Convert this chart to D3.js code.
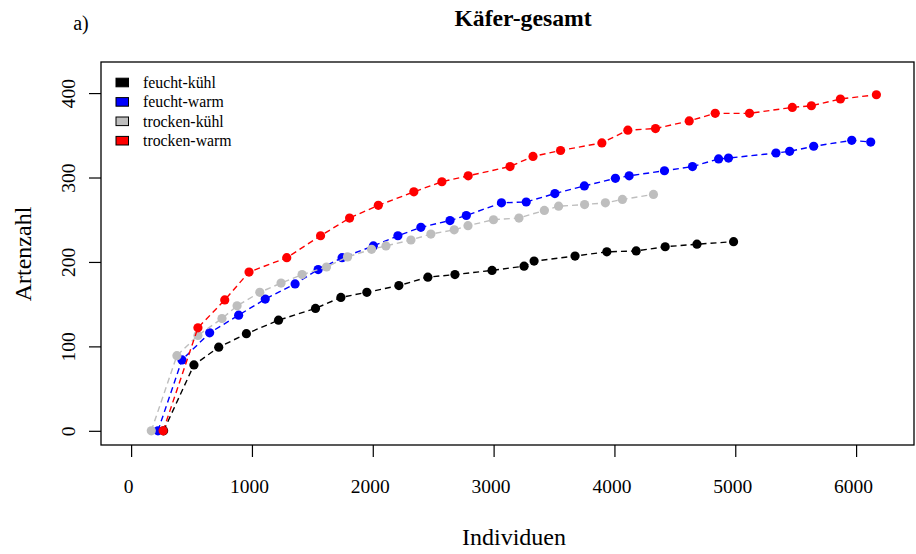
<!DOCTYPE html>
<html>
  <head>
    <meta http-equiv="Content-Type" content="text/html; charset=UTF-8" />
    <title>Käfer-gesamt</title>
    <style>
      body { margin: 0; background: #fff; }
      text { font-family: "Liberation Serif", "Times New Roman", serif; fill: #000; }
    </style>
  </head>
  <body>
    <div id="chart"></div>
    <script src="https://cdnjs.cloudflare.com/ajax/libs/d3/7.8.5/d3.min.js"></script>
    <script>
// series values (Individuen / Artenzahl)
const fkIndividuen = [269, 520, 725, 954, 1220, 1526, 1736, 1951, 2216, 2456, 2680, 2987, 3252, 3335, 3674, 3937, 4180, 4420, 4683, 4986];
const fkArten      = [0, 78, 99, 115, 131, 145, 158, 164, 172, 182, 185, 190, 195, 201, 207, 212, 213, 218, 221, 224];

const fwIndividuen = [222, 421, 650, 890, 1110, 1357, 1548, 1746, 2005, 2208, 2398, 2639, 2774, 3065, 3270, 3507, 3751, 4008, 4122, 4414, 4646, 4862, 4944, 5337, 5450, 5649, 5964, 6121];
const fwArten      = [0, 84, 116, 137, 156, 174, 191, 205, 219, 231, 241, 249, 255, 270, 271, 281, 290, 299, 302, 308, 313, 322, 323, 329, 331, 337, 344, 342];

const tkIndividuen = [167, 379, 553, 752, 877, 1065, 1241, 1415, 1617, 1791, 1990, 2109, 2316, 2481, 2674, 2788, 2999, 3210, 3420, 3538, 3753, 3925, 4066, 4323];
const tkArten      = [0, 89, 113, 133, 148, 164, 175, 185, 194, 206, 215, 219, 226, 233, 238, 243, 250, 252, 261, 266, 268, 270, 274, 280];

const twIndividuen = [265, 553, 775, 976, 1288, 1568, 1808, 2046, 2340, 2572, 2790, 3136, 3326, 3554, 3896, 4111, 4340, 4619, 4834, 5118, 5472, 5630, 5870, 6168];
const twArten      = [0, 122, 155, 188, 205, 231, 252, 267, 283, 295, 302, 313, 325, 332, 341, 356, 358, 367, 376, 376, 383, 385, 393, 398];

const seriesNames  = ['feucht-kühl', 'feucht-warm', 'trocken-kühl', 'trocken-warm'];
const seriesColors = ['#000000', '#0000ff', '#bebebe', '#ff0000'];
const xTicks = [0, 1000, 2000, 3000, 4000, 5000, 6000];
const yTicks = [0, 100, 200, 300, 400];
const xLim = [0, 6230], yLim = [0, 420];

const W = 916, H = 554,
      box = {left: 101, right: 914, top: 62, bottom: 445};

const series = [
  [fkIndividuen, fkArten],
  [fwIndividuen, fwArten],
  [tkIndividuen, tkArten],
  [twIndividuen, twArten]
].map(([xs, ys], i) => ({
  name: seriesNames[i],
  color: seriesColors[i],
  points: xs.map((x, j) => ({x: x, y: ys[j]}))
}));

// R style 4% axis extension
const ext = l => [l[0] - (l[1] - l[0]) * 0.04, l[1] + (l[1] - l[0]) * 0.04];
const x = d3.scaleLinear().domain(ext(xLim)).range([box.left, box.right]);
const y = d3.scaleLinear().domain(ext(yLim)).range([box.bottom, box.top]);

const svg = d3.select('#chart').append('svg')
  .attr('width', W)
  .attr('height', H);

// axes
const xAxis = svg.append('g')
  .attr('transform', `translate(0,${box.bottom})`)
  .call(d3.axisBottom(x).tickValues(xTicks).tickSize(12).tickFormat(d3.format('d')));
xAxis.select('.domain').remove();
xAxis.selectAll('line').attr('stroke', '#000').attr('stroke-width', 1.2);
xAxis.selectAll('text')
  .attr('x', -3).attr('y', 41).attr('dy', '0.35em')
  .style('font-size', '19.5px')
  .style('font-family', '"Liberation Serif", serif');

const yAxis = svg.append('g')
  .attr('transform', `translate(${box.left},0)`)
  .call(d3.axisLeft(y).tickValues(yTicks).tickSize(12).tickFormat(d3.format('d')));
yAxis.select('.domain').remove();
yAxis.selectAll('line').attr('stroke', '#000').attr('stroke-width', 1.2);
yAxis.selectAll('text')
  .attr('x', 0).attr('dy', '0.35em')
  .attr('text-anchor', 'middle')
  .attr('transform', 'translate(-33,0) rotate(-90)')
  .style('font-size', '19.5px')
  .style('font-family', '"Liberation Serif", serif');

// lines and points, one series after another
const line = d3.line().x(d => x(d.x)).y(d => y(d.y));
const plot = svg.append('g');
series.forEach(s => {
  plot.append('path')
    .datum(s.points)
    .attr('d', line)
    .attr('fill', 'none')
    .attr('stroke', s.color)
    .attr('stroke-width', 1.4)
    .attr('stroke-dasharray', '6,4');
  plot.selectAll(null)
    .data(s.points)
    .enter()
      .append('circle')
      .attr('cx', d => x(d.x))
      .attr('cy', d => y(d.y))
      .attr('r', 4.6)
      .attr('fill', s.color);
});

// box
svg.append('rect')
  .attr('x', box.left).attr('y', box.top)
  .attr('width', box.right - box.left)
  .attr('height', box.bottom - box.top)
  .attr('fill', 'none')
  .attr('stroke', '#000')
  .attr('stroke-width', 1.3);

// legend
const legend = svg.append('g')
  .selectAll('g')
  .data(series)
  .enter()
    .append('g')
    .attr('transform', (d, i) => `translate(116,${82.5 + i * 19.4})`);
legend.append('rect')
  .attr('x', 0).attr('y', -4.3)
  .attr('width', 12.5).attr('height', 8.6)
  .attr('fill', d => d.color)
  .attr('stroke', '#000')
  .attr('stroke-width', 1);
legend.append('text')
  .attr('x', 27).attr('dy', '0.35em')
  .style('font-size', '15.8px')
  .text(d => d.name);

// titles
svg.append('text')
  .attr('x', 523).attr('y', 18).attr('dy', '0.35em')
  .attr('text-anchor', 'middle')
  .style('font-size', '23.7px')
  .style('font-weight', 'bold')
  .text('Käfer-gesamt');
svg.append('text')
  .attr('x', 81).attr('y', 23).attr('dy', '0.35em')
  .attr('text-anchor', 'middle')
  .style('font-size', '20px')
  .text('a)');
svg.append('text')
  .attr('x', 514).attr('y', 537).attr('dy', '0.35em')
  .attr('text-anchor', 'middle')
  .style('font-size', '24px')
  .text('Individuen');
svg.append('text')
  .attr('transform', 'translate(23,254) rotate(-90)')
  .attr('dy', '0.35em')
  .attr('text-anchor', 'middle')
  .style('font-size', '24px')
  .text('Artenzahl');
    </script>
  </body>
</html>
